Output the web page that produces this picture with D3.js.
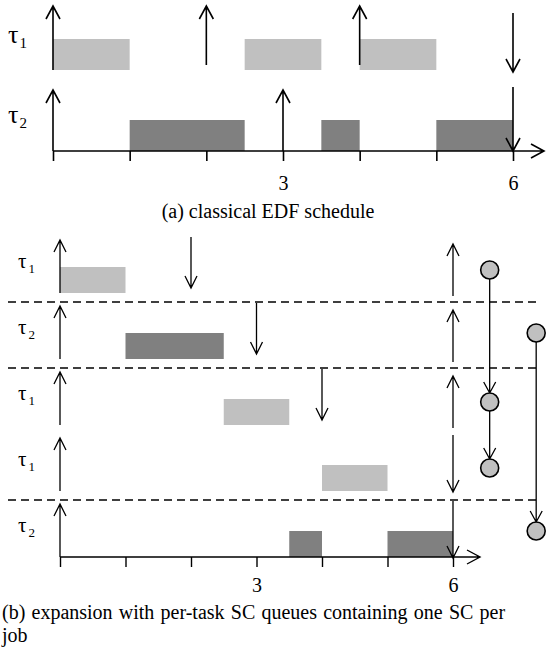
<!DOCTYPE html>
<html>
<head>
<meta charset="utf-8">
<title>EDF schedule with SC queues</title>
<script src="https://cdnjs.cloudflare.com/ajax/libs/d3/7.8.5/d3.min.js"></script>
<style>
    body { margin: 0; background: #fff; }
    svg { display: block; }
    text { font-family: "Liberation Serif", "Times New Roman", serif; fill: #000; }
    .axis .domain { display: none; }
    .axis line { stroke: #000; }
</style>
</head>
<body>
<div id="chart"></div>
<script>
// ---- data ----
var ticks = [0, 1, 2, 3, 4, 5, 6];
var tickLabels = ["", "", "", "3", "", "", "6"];

// (a) classical EDF
var topTasks = ["1", "2"];
var topJobs = [
    {task: 0, start: 0, end: 1},
    {task: 0, start: 2.5, end: 3.5},
    {task: 0, start: 4, end: 5},
    {task: 1, start: 1, end: 2.5},
    {task: 1, start: 3.5, end: 4},
    {task: 1, start: 5, end: 6}
];
var topReleases = [{task: 0, t: 0}, {task: 0, t: 2}, {task: 0, t: 4}, {task: 1, t: 0}, {task: 1, t: 3}];
var topDeadlines = [{task: 0, t: 6}, {task: 1, t: 6}];

// (b) expansion with per-task SC queues
var rowTasks = ["1", "2", "1", "1", "2"];
var rowJobs = [
    {row: 0, start: 0, end: 1},
    {row: 1, start: 1, end: 2.5},
    {row: 2, start: 2.5, end: 3.5},
    {row: 3, start: 4, end: 5},
    {row: 4, start: 3.5, end: 4},
    {row: 4, start: 5, end: 6}
];
var rowReleases = [{row: 0, t: 0}, {row: 1, t: 0}, {row: 2, t: 0}, {row: 3, t: 0}, {row: 4, t: 0},
                   {row: 0, t: 6}, {row: 1, t: 6}, {row: 2, t: 6}];
var rowDeadlines = [{row: 0, t: 2}, {row: 1, t: 3}, {row: 2, t: 4}, {row: 3, t: 6}, {row: 4, t: 6}];
var separators = [0, 1, 3];   // dashed line below these rows
var scQueues = [{t: 6.56, rows: [0, 2, 3]}, {t: 7.27, rows: [1, 4]}];

var taskColor = {"1": "#c0c0c0", "2": "#808080"};

// ---- drawing ----
var width = 548, height = 652;

var svg = d3.select("#chart").append("svg")
    .attr("width", width)
    .attr("height", height);

// vertical arrow with open V head; head at y2
function vArrow(x, y1, y2, hw, hl) {
    var s = y2 < y1 ? 1 : -1;
    return "M" + x + "," + y1 + "L" + x + "," + y2 +
        "M" + (x - hw) + "," + (y2 + s * hl) + "L" + x + "," + y2 + "L" + (x + hw) + "," + (y2 + s * hl);
}
function hArrow(x1, x2, y, hw, hl) {
    return "M" + x1 + "," + y + "L" + x2 + "," + y +
        "M" + (x2 - hl) + "," + (y - hw) + "L" + x2 + "," + y + "L" + (x2 - hl) + "," + (y + hw);
}

function taskLabel(g, x, y, sub, size, subSize, dx, dy) {
    var t = g.append("text").attr("x", x).attr("y", y).style("font-size", size + "px").text("τ");
    t.append("tspan").attr("dx", dx).attr("dy", dy).style("font-size", subSize + "px").text(sub);
}

// ===== (a) =====
var xa = d3.scaleLinear().domain([0, 6]).range([53, 513]);
var ya = d3.scaleLinear().domain([0, 1]).range([70, 151]);   // task baseline
var ga = svg.append("g");

ga.selectAll("rect.job").data(topJobs).enter().append("rect")
    .attr("class", "job")
    .attr("x", function(d) { return xa(d.start); })
    .attr("width", function(d) { return xa(d.end) - xa(d.start); })
    .attr("y", function(d) { return ya(d.task) - 31; })
    .attr("height", 31)
    .attr("fill", function(d) { return taskColor[topTasks[d.task]]; });

var axA = d3.axisBottom(xa).tickValues(ticks).tickSize(10).tickPadding(15)
    .tickFormat(function(d, i) { return tickLabels[i]; });
ga.append("g").attr("class", "axis")
    .attr("transform", "translate(0," + ya(1) + ")")
    .call(axA)
    .call(function(g) {
        g.selectAll("line").attr("stroke-width", 1.6);
        g.selectAll("text").style("font-size", "20px").attr("font-family", null);
    });

ga.append("path")
    .attr("d", hArrow(xa(0), 544, ya(1), 7, 13))
    .attr("fill", "none").attr("stroke", "#000").attr("stroke-width", 1.6);

ga.selectAll("path.rel").data(topReleases).enter().append("path")
    .attr("class", "rel")
    .attr("d", function(d) { return vArrow(xa(d.t), ya(d.task) - (d.task === 0 && d.t > 0 ? 5 : 0), ya(d.task) - (d.task === 0 ? 64 : 61), 7, 13); })
    .attr("fill", "none").attr("stroke", "#000").attr("stroke-width", 1.6);

ga.selectAll("path.dl").data(topDeadlines).enter().append("path")
    .attr("class", "dl")
    .attr("d", function(d) { return vArrow(xa(d.t), ya(d.task) - (d.task === 0 ? 57 : 64), ya(d.task) + (d.task === 0 ? 2 : 0), 7, 13); })
    .attr("fill", "none").attr("stroke", "#000").attr("stroke-width", 1.6);

topTasks.forEach(function(s, i) {
    taskLabel(ga, 8, ya(i) - 27 + i * -1, s, 26, 15, 1, 5);
});

ga.append("text").attr("x", 268).attr("y", 218).attr("text-anchor", "middle")
    .style("font-size", "20px").text("(a) classical EDF schedule");

// ===== (b) =====
var xb = d3.scaleLinear().domain([0, 6]).range([60, 453]);
var yb = d3.scaleLinear().domain([0, 4]).range([293, 557]);   // row baseline
var gb = svg.append("g");

gb.selectAll("line.sep").data(separators).enter().append("line")
    .attr("class", "sep")
    .attr("x1", 8).attr("x2", 538)
    .attr("y1", function(d) { return yb(d) + 9; })
    .attr("y2", function(d) { return yb(d) + 9; })
    .attr("stroke", "#000").attr("stroke-width", 1.5).attr("stroke-dasharray", "8,5");

gb.selectAll("rect.job").data(rowJobs).enter().append("rect")
    .attr("class", "job")
    .attr("x", function(d) { return xb(d.start); })
    .attr("width", function(d) { return xb(d.end) - xb(d.start); })
    .attr("y", function(d) { return yb(d.row) - 26; })
    .attr("height", 26)
    .attr("fill", function(d) { return taskColor[rowTasks[d.row]]; });

var axB = d3.axisBottom(xb).tickValues(ticks).tickSize(10).tickPadding(11)
    .tickFormat(function(d, i) { return tickLabels[i]; });
gb.append("g").attr("class", "axis")
    .attr("transform", "translate(0," + yb(4) + ")")
    .call(axB)
    .call(function(g) {
        g.selectAll("line").attr("stroke-width", 1.4);
        g.selectAll("text").style("font-size", "20px").attr("font-family", null);
    });

gb.append("path")
    .attr("d", hArrow(xb(0), 480, yb(4), 7, 13))
    .attr("fill", "none").attr("stroke", "#000").attr("stroke-width", 1.4);

gb.selectAll("path.rel").data(rowReleases).enter().append("path")
    .attr("class", "rel")
    .attr("d", function(d) {
        return d.t === 0 ? vArrow(xb(d.t), yb(d.row), yb(d.row) - 53, 6, 12)
                         : vArrow(xb(d.t), yb(d.row) + 3, yb(d.row) - 49, 6, 12);
    })
    .attr("fill", "none").attr("stroke", "#000").attr("stroke-width", 1.3);

gb.selectAll("path.dl").data(rowDeadlines).enter().append("path")
    .attr("class", "dl")
    .attr("d", function(d) {
        return vArrow(xb(d.t), yb(d.row) - 56, yb(d.row) + (d.t < 6 ? -5 : 1), 6, 12);
    })
    .attr("fill", "none").attr("stroke", "#000").attr("stroke-width", 1.3);

// SC queues
var r = 9;
scQueues.forEach(function(q) {
    var cx = xb(q.t);
    var cys = q.rows.map(function(row) { return yb(row) - 23 - (rowTasks[row] === "2" ? 3 : 0); });
    for (var i = 1; i < cys.length; i++) {
        gb.append("path")
            .attr("d", vArrow(cx, cys[i - 1], cys[i] - r, 6, 11))
            .attr("fill", "none").attr("stroke", "#000").attr("stroke-width", 1.3);
    }
    gb.selectAll(null).data(cys).enter().append("circle")
        .attr("cx", cx).attr("cy", function(d) { return d; }).attr("r", r)
        .attr("fill", "#c0c0c0").attr("stroke", "#000").attr("stroke-width", 1.6);
});

rowTasks.forEach(function(s, i) {
    taskLabel(gb, 18, yb(i) - 25, s, 21, 13, 2, 5);
});

gb.append("text").attr("x", 2).attr("y", 619)
    .style("font-size", "20px").style("word-spacing", "1.2px")
    .text("(b) expansion with per-task SC queues containing one SC per");
gb.append("text").attr("x", 2).attr("y", 642)
    .style("font-size", "20px").text("job");
</script>
</body>
</html>
